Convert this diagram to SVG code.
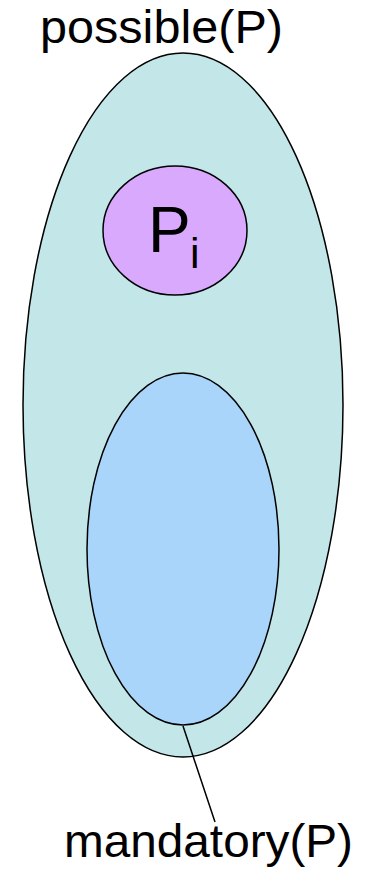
<svg xmlns="http://www.w3.org/2000/svg" width="365" height="871" viewBox="0 0 365 871">
<style>
.shape{stroke:#000;stroke-width:1.5}
.lbl{font-family:"Liberation Sans",Arial,sans-serif;fill:#000}
.conn{stroke:#000;stroke-width:1.5;fill:none}
</style>
<rect width="365" height="871" fill="#fff"/>
<g id="possible">
<ellipse class="shape" cx="183" cy="405" rx="160" ry="352" fill="#c3e6e8"/>
<text class="lbl" x="40" y="43" font-size="46" textLength="243" lengthAdjust="spacingAndGlyphs">possible(P)</text>
</g>
<g id="pi">
<ellipse class="shape" cx="175" cy="230.5" rx="72" ry="64.5" fill="#d8a9fd"/>
<text class="lbl" x="148" y="252" font-size="64">P</text>
<text class="lbl" x="190" y="268" font-size="43">i</text>
</g>
<g id="mandatory">
<ellipse class="shape" cx="183" cy="549" rx="96" ry="176" fill="#aad5fb"/>
<text class="lbl" x="64" y="857" font-size="46" textLength="289" lengthAdjust="spacingAndGlyphs">mandatory(P)</text>
</g>
<g id="connectors">
<line class="conn" x1="183" y1="726" x2="215" y2="822"/>
</g>
</svg>
